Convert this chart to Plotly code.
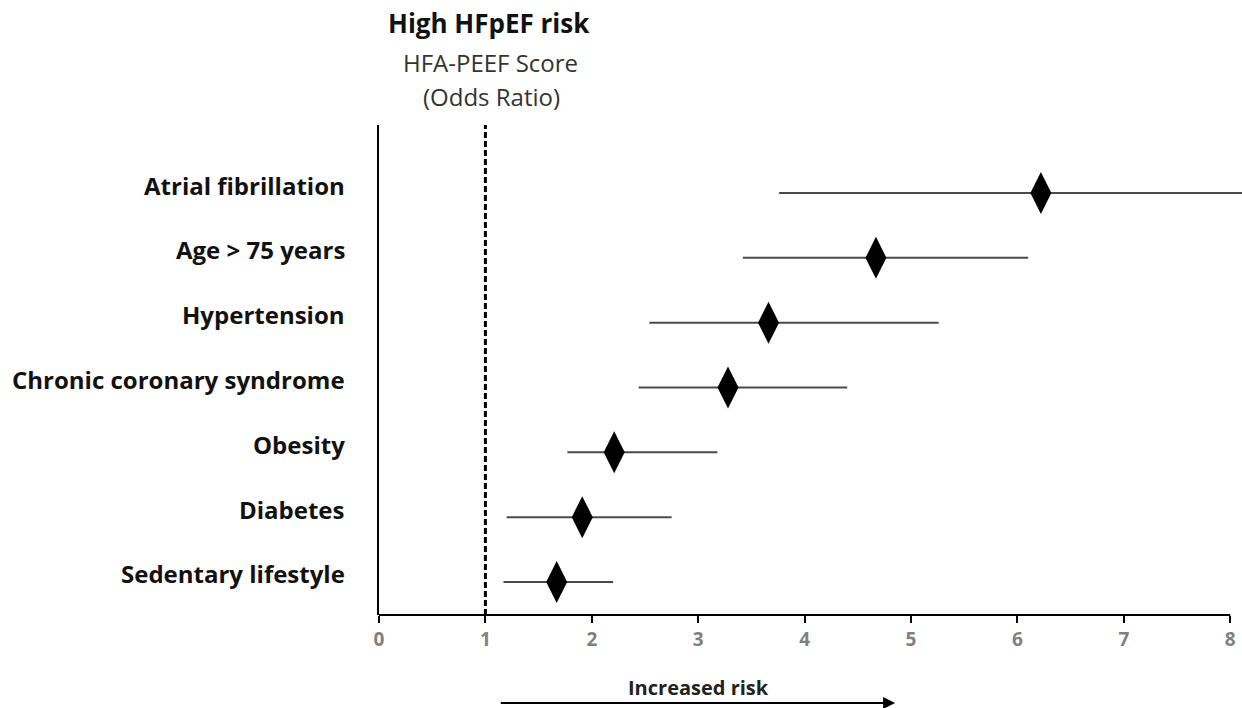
import plotly.graph_objects as go

categories = ["Atrial fibrillation", "Age > 75 years", "Hypertension",
              "Chronic coronary syndrome", "Obesity", "Diabetes", "Sedentary lifestyle"]
odds_ratio = [6.22, 4.67, 3.66, 3.28, 2.21, 1.91, 1.67]
ci_low = [3.76, 3.42, 2.54, 2.44, 1.77, 1.20, 1.17]
ci_high = [8.11, 6.10, 5.26, 4.40, 3.18, 2.75, 2.20]
x_ticks = [0, 1, 2, 3, 4, 5, 6, 7, 8]

n = len(categories)
ypos = [n - 1 - i for i in range(n)]

FONT = "Open Sans"
PW = 863  # plot width in px
PH = 490  # plot height in px

fig = go.Figure()

# CI lines
for i in range(n):
    fig.add_trace(go.Scatter(
        x=[ci_low[i], ci_high[i]], y=[ypos[i], ypos[i]],
        mode="lines", line=dict(color="#4a4a4a", width=2),
        showlegend=False, hoverinfo="skip"))

fig.add_trace(go.Scatter(
    x=odds_ratio, y=ypos, mode="markers",
    marker=dict(symbol="diamond-tall", size=30, color="black"),
    showlegend=False, cliponaxis=False))

fig.update_layout(
    width=1242, height=708,
    margin=dict(l=379, r=0, t=125, b=93),
    paper_bgcolor="white", plot_bgcolor="white",
    xaxis=dict(range=[0, 8.11], tickvals=x_ticks, ticktext=[str(t) for t in x_ticks],
               showline=False, showgrid=False, zeroline=False,
               ticks="outside", ticklen=7, tickwidth=2, tickcolor="black",
               tickfont=dict(family=FONT, size=19, color="#808080", weight="bold")),
    yaxis=dict(range=[-0.51, 7.05], tickvals=ypos, ticktext=[""] * n,
               showline=True, linecolor="black", linewidth=2,
               showgrid=False, zeroline=False, ticks=""),
)

# category labels (slightly raised as in the original)
for i in range(n):
    fig.add_annotation(text="<b>" + categories[i] + "</b>", xref="paper", yref="y",
                       x=-(379 - 347) / PW, y=ypos[i], yshift=8,
                       xanchor="right", yanchor="middle", showarrow=False,
                       font=dict(family=FONT, size=24, color="#111111"))

# x axis line ending at 8
fig.add_shape(type="line", xref="x", yref="paper", x0=0, x1=8, y0=0, y1=0,
              line=dict(color="black", width=2))
# reference line at OR = 1
fig.add_shape(type="line", xref="x", yref="paper", x0=1, x1=1, y0=0, y1=1,
              line=dict(color="black", width=3, dash="6px,3px"))

fig.add_annotation(text="<b>High HFpEF risk</b>", xref="paper", yref="paper",
                   x=(489 - 379) / PW, y=1 + (125 - 23) / PH, showarrow=False,
                   xanchor="center", yanchor="middle",
                   font=dict(family=FONT, size=26, color="#111111"))
fig.add_annotation(text="HFA-PEEF Score", xref="paper", yref="paper",
                   x=(490 - 379) / PW, y=1 + (125 - 62) / PH, showarrow=False,
                   xanchor="center", yanchor="middle",
                   font=dict(family=FONT, size=24, color="#333333"))
fig.add_annotation(text="(Odds Ratio)", xref="paper", yref="paper",
                   x=(491 - 379) / PW, y=1 + (125 - 97) / PH, showarrow=False,
                   xanchor="center", yanchor="middle",
                   font=dict(family=FONT, size=24, color="#333333"))

fig.add_annotation(text="<b>Increased risk</b>", xref="paper", yref="paper",
                   x=(698 - 379) / PW, y=-(687 - 615) / PH, showarrow=False,
                   xanchor="center", yanchor="middle",
                   font=dict(family=FONT, size=20, color="#222222"))
fig.add_annotation(text="", xref="x", yref="paper", x=4.85, y=-(703 - 615) / PH,
                   axref="x", ayref="pixel", ax=1.13, ay=0,
                   showarrow=True, arrowhead=2, arrowsize=1.2, arrowwidth=2,
                   arrowcolor="black")

fig.write_html("out.html")
